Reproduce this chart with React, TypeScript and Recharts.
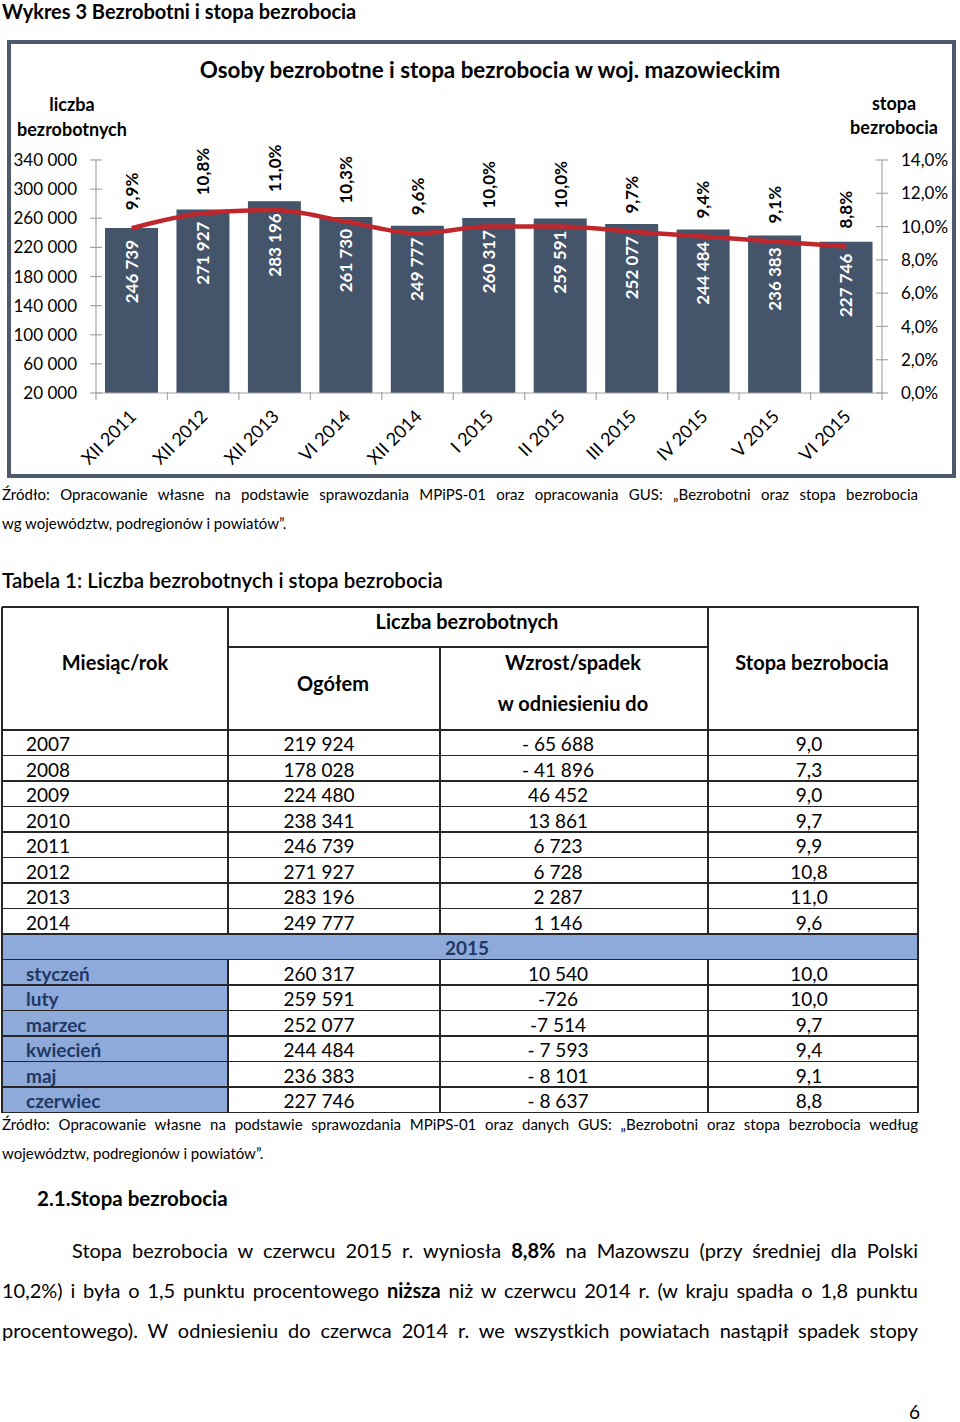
import React from 'react';
import { ComposedChart, Bar, Line, XAxis, YAxis, LabelList } from 'recharts';

// ---- chart data ----
const categories = ['XII 2011', 'XII 2012', 'XII 2013', 'VI 2014', 'XII 2014', 'I 2015', 'II 2015', 'III 2015', 'IV 2015', 'V 2015', 'VI 2015'];
const unemployed = [246739, 271927, 283196, 261730, 249777, 260317, 259591, 252077, 244484, 236383, 227746];
const rates = [9.9, 10.8, 11.0, 10.3, 9.6, 10.0, 10.0, 9.7, 9.4, 9.1, 8.8];
const leftTicks = [20000, 60000, 100000, 140000, 180000, 220000, 260000, 300000, 340000];
const rightTicks = [0, 2, 4, 6, 8, 10, 12, 14];

// ---- table data ----
const yearLabels = ['2007', '2008', '2009', '2010', '2011', '2012', '2013', '2014'];
const yearTotals = ['219 924', '178 028', '224 480', '238 341', '246 739', '271 927', '283 196', '249 777'];
const yearChanges = ['- 65 688', '- 41 896', '46 452', '13 861', '6 723', '6 728', '2 287', '1 146'];
const yearRates = ['9,0', '7,3', '9,0', '9,7', '9,9', '10,8', '11,0', '9,6'];
const monthLabels = ['styczeń', 'luty', 'marzec', 'kwiecień', 'maj', 'czerwiec'];
const monthTotals = ['260 317', '259 591', '252 077', '244 484', '236 383', '227 746'];
const monthChanges = ['10 540', '-726', '-7 514', '- 7 593', '- 8 101', '- 8 637'];
const monthRates = ['10,0', '10,0', '9,7', '9,4', '9,1', '8,8'];

const data = categories.map((c, i) => ({ cat: c, count: unemployed[i], rate: rates[i] }));

const FONT = 'Lato, "Open Sans", "DejaVu Sans", sans-serif';
const BAR_COLOR = '#44546a';
const LINE_COLOR = '#c0272d';
const AXIS_COLOR = '#a6a6a6';

const CH_W = 960;
const CH_H = 480;
const M_TOP = 160;
const PLOT_L = 96;
const PLOT_R = 882;
const PLOT_B = 393;
const BAND = (PLOT_R - PLOT_L) / categories.length;

const fmtThousands = (v: number) => String(v).replace(/\B(?=(\d{3})+(?!\d))/g, ' ');
const fmtPct = (v: number) => v.toFixed(1).replace('.', ',') + '%';

const LeftTick = (props: any) => {
  const { x, y, payload } = props;
  return (
    <g>
      <line x1={x - 6} x2={x + 6} y1={y} y2={y} stroke={AXIS_COLOR} strokeWidth={1.2} />
      <text x={x - 19} y={y} dy="0.36em" textAnchor="end" fontSize={17} fill="#000" fontFamily={FONT}>
        {fmtThousands(payload.value)}
      </text>
    </g>
  );
};

const RightTick = (props: any) => {
  const { x, y, payload } = props;
  return (
    <g>
      <line x1={x - 6} x2={x + 6} y1={y} y2={y} stroke={AXIS_COLOR} strokeWidth={1.2} />
      <text x={x + 19} y={y} dy="0.36em" textAnchor="start" fontSize={17} fill="#000" fontFamily={FONT}>
        {fmtPct(payload.value)}
      </text>
    </g>
  );
};

const XTick = (props: any) => {
  const { x, y, payload, index } = props;
  const last = index === categories.length - 1;
  const ax = x + 1;
  const ay = y + 20;
  return (
    <g>
      <line x1={x - BAND / 2} x2={x - BAND / 2} y1={y - 1} y2={y + 7} stroke={AXIS_COLOR} strokeWidth={1.2} />
      {last && <line x1={x + BAND / 2} x2={x + BAND / 2} y1={y - 1} y2={y + 7} stroke={AXIS_COLOR} strokeWidth={1.2} />}
      <text x={ax} y={ay} dy="0.36em" textAnchor="end" fontSize={18} fill="#000" fontFamily={FONT} transform={`rotate(-45, ${ax}, ${ay})`}>
        {payload.value}
      </text>
    </g>
  );
};

const BarValueLabel = (props: any) => {
  const { x, y, width, value } = props;
  const cx = x + width / 2;
  const ty = y + 12;
  return (
    <text x={cx} y={ty} dy="0.36em" textAnchor="end" fontSize={17} fontWeight="bold" fill="#fff" fontFamily={FONT} transform={`rotate(-90, ${cx}, ${ty})`}>
      {fmtThousands(value)}
    </text>
  );
};

const RateLabel = (props: any) => {
  const { x, y, value } = props;
  const ty = y - 18;
  return (
    <text x={x} y={ty} dy="0.36em" textAnchor="start" fontSize={17} fontWeight="bold" fill="#000" fontFamily={FONT} transform={`rotate(-90, ${x}, ${ty})`}>
      {fmtPct(value)}
    </text>
  );
};

const abs = (left: number, top: number, extra: React.CSSProperties = {}): React.CSSProperties => ({
  position: 'absolute', left, top, ...extra,
});

const ChartBlock = () => (
  <>
    <div style={abs(7, 40, { width: 949, height: 438, border: '4px solid #4f5b6c', boxSizing: 'border-box', background: '#fff' })} />
    <div style={abs(0, 0, { width: CH_W, height: CH_H })}>
      <ComposedChart width={CH_W} height={CH_H} data={data} margin={{ top: M_TOP, right: 0, bottom: 0, left: 0 }}>
        <XAxis dataKey="cat" xAxisId="x" height={CH_H - PLOT_B} interval={0} tickLine={false} tickSize={0} tickMargin={0}
          axisLine={{ stroke: AXIS_COLOR, strokeWidth: 1.2 }} tick={<XTick />} />
        <YAxis yAxisId="left" orientation="left" width={PLOT_L} domain={[20000, 340000]} ticks={leftTicks}
          tickLine={false} tickSize={0} tickMargin={0} axisLine={{ stroke: AXIS_COLOR, strokeWidth: 1.2 }} tick={<LeftTick />} allowDataOverflow />
        <YAxis yAxisId="right" orientation="right" width={CH_W - PLOT_R} domain={[0, 14]} ticks={rightTicks}
          tickLine={false} tickSize={0} tickMargin={0} axisLine={{ stroke: AXIS_COLOR, strokeWidth: 1.2 }} tick={<RightTick />} allowDataOverflow />
        <Bar dataKey="count" xAxisId="x" yAxisId="left" fill={BAR_COLOR} barSize={53} isAnimationActive={false}>
          <LabelList dataKey="count" content={<BarValueLabel />} />
        </Bar>
        <Line dataKey="rate" xAxisId="x" yAxisId="right" type="monotone" stroke={LINE_COLOR} strokeWidth={4.5} dot={false} activeDot={false} isAnimationActive={false}>
          <LabelList dataKey="rate" content={<RateLabel />} />
        </Line>
      </ComposedChart>
    </div>
    <div style={abs(140, 56, { width: 700, textAlign: 'center', fontSize: 22.4, fontWeight: 'bold', lineHeight: '28px' })}>
      Osoby bezrobotne i stopa bezrobocia w woj. mazowieckim
    </div>
    <div style={abs(2, 92, { width: 140, textAlign: 'center', fontSize: 18, fontWeight: 'bold', lineHeight: '25px' })}>
      liczba<br />bezrobotnych
    </div>
    <div style={abs(824, 91, { width: 140, textAlign: 'center', fontSize: 18, fontWeight: 'bold', lineHeight: '24px' })}>
      stopa<br />bezrobocia
    </div>
  </>
);

// ---- table layout (absolute grid) ----
const T_LEFT = 2;
const T_RIGHT = 918;
const T_TOP = 607;
const T_HMID = 647;
const T_HBOT = 730;
const ROW_H = 25.5;
const COLS = [2, 228, 440, 708, 918];
const LINE_C = '#262626';
const LW = 1.3;
const BLUE_BG = '#8eaadb';
const BLUE_TXT = '#1f3864';

const HLine = ({ x1, x2, y }: { x1: number; x2: number; y: number }) => (
  <div style={abs(x1, y - LW / 2, { width: x2 - x1 + LW / 2, height: LW, background: LINE_C })} />
);
const VLine = ({ x, y1, y2 }: { x: number; y1: number; y2: number }) => (
  <div style={abs(x - LW / 2, y1, { width: LW, height: y2 - y1, background: LINE_C })} />
);
const CText = ({ cx, cy, children, size = 19, bold = false, color = '#000' }: any) => (
  <div style={abs(cx - 160, cy - 14, { width: 320, textAlign: 'center', fontSize: size, fontWeight: bold ? 'bold' : 'normal', lineHeight: '28px', color, whiteSpace: 'nowrap' })}>
    {children}
  </div>
);
const LText = ({ x, cy, children, size = 19, bold = false, color = '#000' }: any) => (
  <div style={abs(x, cy - 14, { fontSize: size, fontWeight: bold ? 'bold' : 'normal', lineHeight: '28px', color, whiteSpace: 'nowrap' })}>
    {children}
  </div>
);

const TableBlock = () => {
  const nRows = yearLabels.length + 1 + monthLabels.length;
  const rowTop = (i: number) => T_HBOT + i * ROW_H;
  const tBottom = rowTop(nRows);
  const blueRow = yearLabels.length;
  const y2015a = rowTop(blueRow);
  const y2015b = rowTop(blueRow + 1);
  const rowCenter = (i: number) => rowTop(i) + ROW_H / 2 + 1.5;
  return (
    <>
      {/* backgrounds */}
      <div style={abs(T_LEFT, y2015a, { width: T_RIGHT - T_LEFT, height: ROW_H, background: BLUE_BG })} />
      <div style={abs(T_LEFT, y2015b, { width: COLS[1] - T_LEFT, height: tBottom - y2015b, background: BLUE_BG })} />
      {/* horizontal lines */}
      <HLine x1={T_LEFT} x2={T_RIGHT} y={T_TOP} />
      <HLine x1={COLS[1]} x2={COLS[3]} y={T_HMID} />
      {Array.from({ length: nRows + 1 }).map((_, i) => (
        <HLine key={i} x1={T_LEFT} x2={T_RIGHT} y={rowTop(i)} />
      ))}
      {/* vertical lines */}
      <VLine x={T_LEFT} y1={T_TOP} y2={tBottom} />
      <VLine x={T_RIGHT} y1={T_TOP} y2={tBottom} />
      <VLine x={COLS[1]} y1={T_TOP} y2={y2015a} />
      <VLine x={COLS[2]} y1={T_HMID} y2={y2015a} />
      <VLine x={COLS[3]} y1={T_TOP} y2={y2015a} />
      <VLine x={COLS[1]} y1={y2015b} y2={tBottom} />
      <VLine x={COLS[2]} y1={y2015b} y2={tBottom} />
      <VLine x={COLS[3]} y1={y2015b} y2={tBottom} />
      {/* header */}
      <CText cx={115} cy={662} size={20} bold>Miesiąc/rok</CText>
      <CText cx={467} cy={621} size={20} bold>Liczba bezrobotnych</CText>
      <CText cx={333} cy={683} size={20} bold>Ogółem</CText>
      <CText cx={573} cy={662} size={20} bold>Wzrost/spadek</CText>
      <CText cx={573} cy={703} size={20} bold>w odniesieniu do</CText>
      <CText cx={812} cy={662} size={20} bold>Stopa bezrobocia</CText>
      {/* years */}
      {yearLabels.map((y, i) => (
        <React.Fragment key={y}>
          <LText x={26} cy={rowCenter(i)}>{y}</LText>
          <CText cx={319} cy={rowCenter(i)}>{yearTotals[i]}</CText>
          <CText cx={558} cy={rowCenter(i)}>{yearChanges[i]}</CText>
          <CText cx={809} cy={rowCenter(i)}>{yearRates[i]}</CText>
        </React.Fragment>
      ))}
      <CText cx={467} cy={rowCenter(blueRow)} bold color={BLUE_TXT}>2015</CText>
      {monthLabels.map((m, i) => (
        <React.Fragment key={m}>
          <LText x={26} cy={rowCenter(blueRow + 1 + i)} bold color={BLUE_TXT}>{m}</LText>
          <CText cx={319} cy={rowCenter(blueRow + 1 + i)}>{monthTotals[i]}</CText>
          <CText cx={558} cy={rowCenter(blueRow + 1 + i)}>{monthChanges[i]}</CText>
          <CText cx={809} cy={rowCenter(blueRow + 1 + i)}>{monthRates[i]}</CText>
        </React.Fragment>
      ))}
    </>
  );
};

const justLine = (left: number, top: number, width: number, size: number, lh: number): React.CSSProperties => ({
  position: 'absolute', left, top, width, fontSize: size, lineHeight: `${lh}px`, textAlign: 'justify', textAlignLast: 'justify',
});

export default function App() {
  return (
    <div style={{ position: 'absolute', left: 0, top: 0, width: 960, height: 1422, background: '#fff', fontFamily: FONT, color: '#000', overflow: 'hidden' }}>
      <div style={abs(2, 0, { fontSize: 20, fontWeight: 'bold', lineHeight: '23px', whiteSpace: 'nowrap' })}>Wykres 3 Bezrobotni i stopa bezrobocia</div>
      <ChartBlock />

      <div style={justLine(2, 483, 916, 15, 22)}>
        Źródło: Opracowanie własne na podstawie sprawozdania MPiPS-01 oraz opracowania GUS: „Bezrobotni oraz stopa bezrobocia
      </div>
      <div style={abs(2, 512, { fontSize: 15, lineHeight: '22px' })}>wg województw, podregionów i powiatów”.</div>

      <div style={abs(2, 567, { fontSize: 20.5, fontWeight: 600, lineHeight: '26px' })}>Tabela 1: Liczba bezrobotnych i stopa bezrobocia</div>

      <TableBlock />

      <div style={justLine(2, 1113, 916, 15, 22)}>
        Źródło: Opracowanie własne na podstawie sprawozdania MPiPS-01 oraz danych GUS: „Bezrobotni oraz stopa bezrobocia według
      </div>
      <div style={abs(2, 1142, { fontSize: 15, lineHeight: '22px' })}>województw, podregionów i powiatów”.</div>

      <div style={abs(37, 1185, { fontSize: 20.5, fontWeight: 'bold', lineHeight: '26px' })}>2.1.Stopa bezrobocia</div>

      <div style={justLine(72, 1236, 846, 20, 28)}>
        Stopa bezrobocia w czerwcu 2015 r. wyniosła <b>8,8%</b> na Mazowszu (przy średniej dla Polski
      </div>
      <div style={justLine(2, 1276, 916, 20, 28)}>
        10,2%) i była o 1,5 punktu procentowego <b>niższa</b> niż w czerwcu 2014 r. (w kraju spadła o 1,8 punktu
      </div>
      <div style={justLine(2, 1316, 916, 20, 28)}>
        procentowego). W odniesieniu do czerwca 2014 r. we wszystkich powiatach nastąpił spadek stopy
      </div>

      <div style={abs(909, 1398, { fontSize: 19, lineHeight: '28px' })}>6</div>
    </div>
  );
}
